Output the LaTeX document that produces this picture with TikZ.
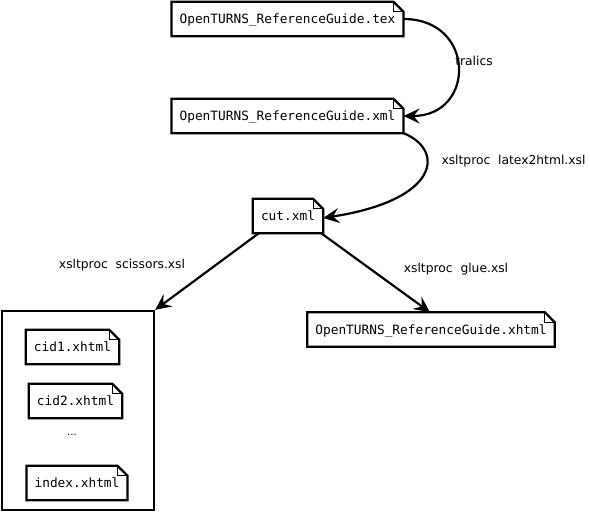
\documentclass[tikz,border=0pt]{standalone}
\usepackage{fontspec}
\setmainfont{DejaVu Sans}
\newfontfamily\monofont{DejaVu Sans Mono}
\usetikzlibrary{arrows.meta}
\tikzset{
  doc/.style={draw=none, font=\monofont\fontsize{12.8}{15}\selectfont, inner xsep=8pt, inner ysep=0pt, minimum height=34pt, text depth=0pt},
  lbl/.style={font=\fontsize{12.3}{15}\selectfont, inner sep=0pt},
  outline/.style={line width=2.3pt, line join=miter},
  foldline/.style={line width=1pt},
  flow/.style={line width=2.2pt, -{Stealth[length=16pt,width=15pt,inset=6pt]}}
}
\newcommand\docframe[1]{%
  \draw[outline] (#1.south west) -- (#1.north west) -- ([xshift=-10pt]#1.north east)
    -- ([yshift=-10pt]#1.north east) -- (#1.south east) -- cycle;
  \draw[foldline] ([xshift=-10pt]#1.north east) -- ([xshift=-10pt,yshift=-10pt]#1.north east)
    -- ([yshift=-10pt]#1.north east);
}
\begin{document}
\begin{tikzpicture}[x=1pt,y=-1pt]
\useasboundingbox (0,0) rectangle (590,512);
\node[doc] (tex) at (287.5,19) {OpenTURNS\_ReferenceGuide.tex};
\node[doc] (xml) at (287.5,116) {OpenTURNS\_ReferenceGuide.xml};
\node[doc] (cut) at (288,216) {cut.xml};
\node[draw, outline, minimum width=152pt, minimum height=199pt, inner sep=0pt] (box) at (78,410.5) {};
\node[doc] (cid1) at (72.5,347) {cid1.xhtml};
\node[doc] (cid2) at (75.5,401) {cid2.xhtml};
\node[inner sep=0pt, font=\fontsize{10}{12}\selectfont] (dots) at (72,435) {...};
\node[doc] (index) at (77,483) {index.xhtml};
\node[doc] (xhtml) at (431,329.5) {OpenTURNS\_ReferenceGuide.xhtml};
\foreach \n in {tex,xml,cut,cid1,cid2,index,xhtml} {\docframe{\n}}

\draw[flow] (tex.east) .. controls (476,19) and (476,116) .. (xml.east);
\draw[flow] (xml.south east) .. controls (445,150) and (440,200) .. ([yshift=-2pt]cut.east);
\draw[flow] ([xshift=6pt]cut.south west) -- (box.north east);
\draw[flow] ([xshift=-2pt]cut.south east) -- ([xshift=-1pt]xhtml.north);

\node[lbl] (l1) at (474,61) {tralics};
\node[lbl] (l2) at (513.5,161) {xsltproc\ \ latex2html.xsl};
\node[lbl] (l3) at (122,265) {xsltproc\ \ scissors.xsl};
\node[lbl] (l4) at (456,269) {xsltproc\ \ glue.xsl};
\end{tikzpicture}
\end{document}
